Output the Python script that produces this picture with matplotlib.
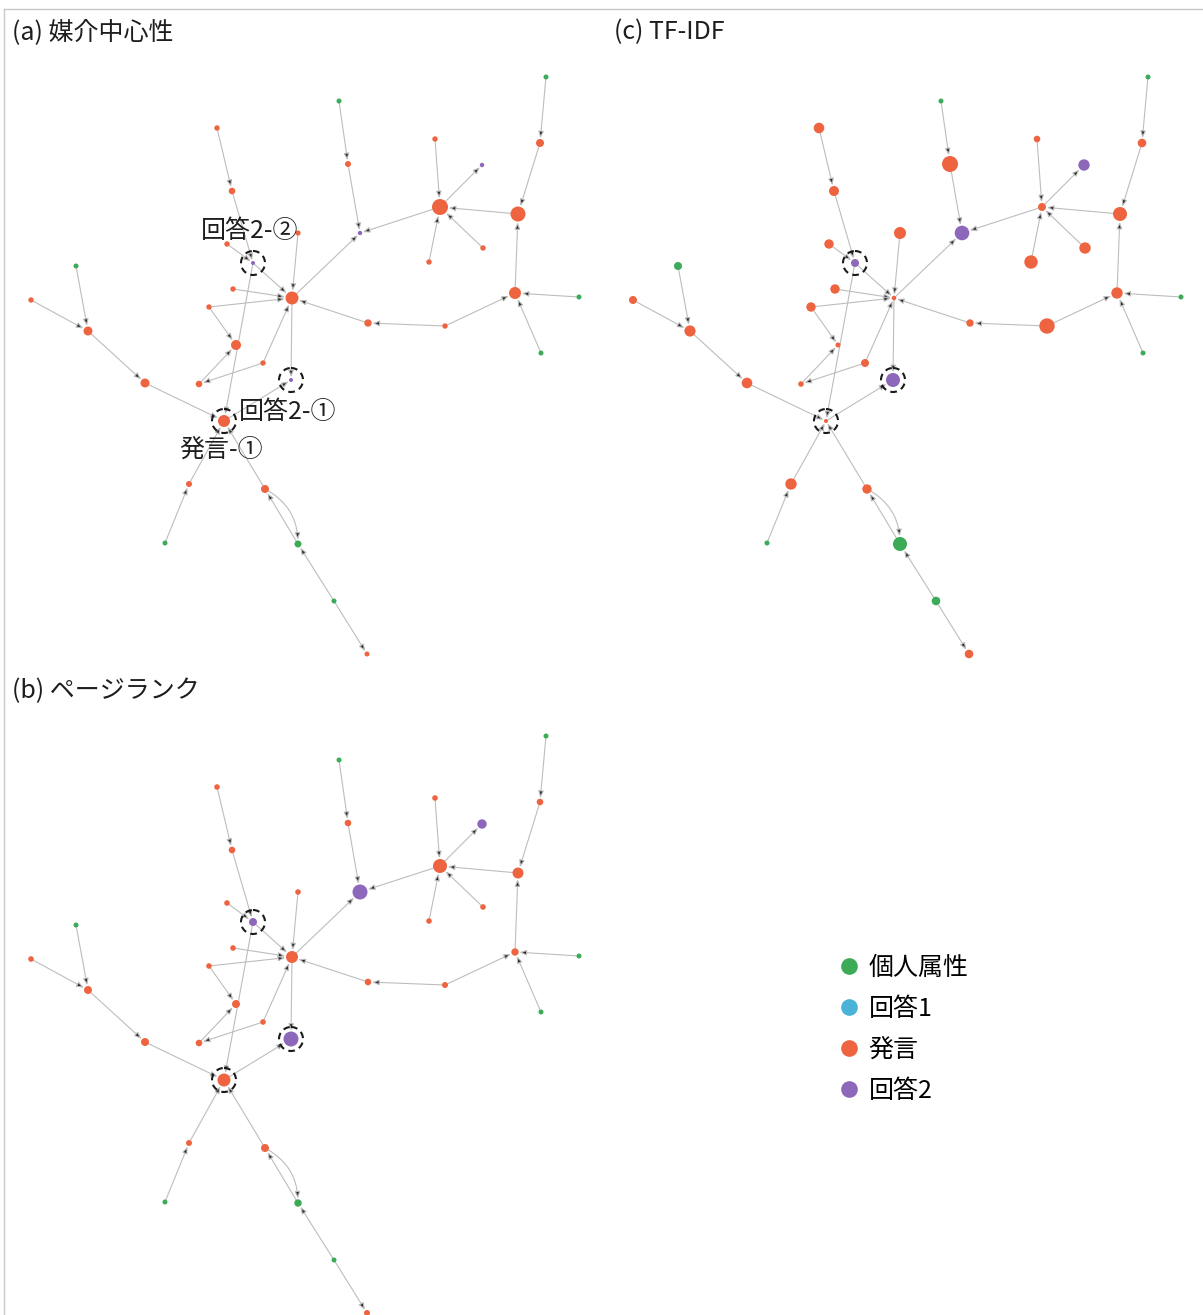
import matplotlib
matplotlib.use('Agg')
import matplotlib.pyplot as plt
from matplotlib.patches import FancyArrowPatch, Circle, ArrowStyle
from matplotlib.lines import Line2D

plt.rcParams['font.family'] = ['Noto Sans CJK JP', 'DejaVu Sans']

# ---------------- data ----------------
node_ids = ['A', 'B', 'C', 'D', 'E', 'F', 'G', 'H', 'HUB', 'I', 'J', 'K', 'L', 'M', 'N', 'O',
            'P', 'Q', 'R', 'S', 'HUB2', 'T', 'U', 'V', 'W', 'X', 'Y', 'Z', 'AA', 'AB', 'AC', 'AD',
            'SP', 'AE', 'AF', 'AG', 'AH', 'AI', 'AJ']
node_x = [217, 232, 298, 227, 253, 76, 31, 233, 292, 209, 88, 236, 263, 291, 145, 199,
          339, 348, 435, 482, 440, 546, 540, 518, 360, 483, 429, 515, 579, 541, 368, 445,
          224, 189, 265, 165, 298, 334, 367]
node_y = [128, 191, 233, 244, 263, 266, 300, 289, 298, 307, 331, 345, 363, 380, 383, 384,
          101, 164, 139, 165, 207, 77, 143, 214, 233, 248, 262, 293, 297, 353, 323, 326,
          421, 484, 489, 543, 544, 601, 654]
node_type = ['発言', '発言', '発言', '発言', '回答2', '個人属性', '発言', '発言', '発言', '発言',
             '発言', '発言', '発言', '回答2', '発言', '発言',
             '個人属性', '発言', '発言', '回答2', '発言', '個人属性', '発言', '発言', '回答2', '発言',
             '発言', '発言', '個人属性', '個人属性', '発言', '発言',
             '発言', '発言', '発言', '個人属性', '個人属性', '個人属性', '発言']
# node radius (px) per centrality measure
radius_betweenness = [2.7, 3.3, 2.6, 2.7, 2.0, 2.5, 2.7, 2.7, 6.5, 2.7, 4.5, 5.0, 2.7, 2.0, 4.5, 3.3,
                      2.5, 3.0, 2.7, 2.2, 8.0, 2.5, 4.0, 7.5, 2.2, 2.7, 2.7, 6.0, 2.5, 2.5, 3.7, 2.7,
                      6.0, 3.0, 4.0, 2.5, 3.5, 2.5, 2.5]
radius_pagerank = [2.8, 3.3, 2.8, 2.8, 4.0, 2.5, 2.8, 2.8, 6.0, 2.8, 4.0, 4.0, 2.8, 7.5, 4.0, 3.3,
                   2.5, 3.3, 2.8, 4.7, 7.0, 2.5, 3.3, 5.5, 7.5, 2.8, 2.8, 3.7, 2.5, 2.5, 3.3, 3.0,
                   6.5, 3.0, 4.0, 2.5, 3.7, 2.5, 3.0]
radius_tfidf = [5.3, 5.0, 6.0, 4.7, 4.0, 4.0, 4.0, 4.7, 2.3, 4.7, 5.6, 2.5, 4.0, 7.0, 5.3, 2.8,
                2.5, 8.0, 3.3, 5.7, 4.0, 2.5, 4.3, 7.0, 7.3, 5.7, 6.7, 5.7, 2.5, 2.5, 3.7, 7.7,
                2.0, 5.7, 4.7, 2.5, 7.0, 4.3, 4.3]

edge_src = ['A', 'B', 'D', 'E', 'H', 'I', 'I', 'C', 'L', 'L', 'O', 'HUB', 'SP', 'E', 'N', 'AE',
            'AF', 'AG', 'AF', 'AH', 'AI', 'AI', 'F', 'G', 'J', 'HUB', 'P', 'Q', 'HUB2', 'R',
            'HUB2', 'Y', 'X', 'V', 'T', 'U', 'Z', 'AA', 'AB', 'AD', 'AD', 'AC']
edge_dst = ['B', 'E', 'E', 'HUB', 'HUB', 'HUB', 'K', 'HUB', 'HUB', 'O', 'K', 'M', 'M', 'SP', 'SP', 'SP',
            'SP', 'AE', 'AH', 'AF', 'AH', 'AJ', 'J', 'J', 'N', 'W', 'Q', 'W', 'W', 'HUB2',
            'S', 'HUB2', 'HUB2', 'HUB2', 'U', 'V', 'V', 'Z', 'Z', 'Z', 'AC', 'HUB']
edge_curve = [0, 0, 0, 0, 0, 0, 0, 0, 0, 0, 0, 0, 0, 0, 0, 0,
              0, 0, -0.3, 0, 0, 0, 0, 0, 0, 0, 0, 0, 0, 0,
              0, 0, 0, 0, 0, 0, 0, 0, 0, 0, 0, 0]

highlighted = ['E', 'M', 'SP']

type_labels = ['個人属性', '回答1', '発言', '回答2']
type_colors = ['#3cab57', '#4bb3d8', '#ef6440', '#8c67ba']

panel_titles = ['(a) 媒介中心性', '(b) ページランク', '(c) TF-IDF']
annot_text = ['回答2-②', '回答2-①', '発言-①']
annot_xy = [(201, 231), (239, 412), (179, 450)]

# ---------------- drawing ----------------
W, H = 1203, 1315
fig = plt.figure(figsize=(W / 100, H / 100), dpi=100)
fig.patch.set_facecolor('white')

idx = {n: i for i, n in enumerate(node_ids)}
color_of = dict(zip(type_labels, type_colors))
PT = 0.72  # points per pixel at 100 dpi
FS = 18


def panel_axes(left, top, w, h):
    ax = fig.add_axes([left / W, 1 - (top + h) / H, w / W, h / H])
    ax.set_xlim(0, w)
    ax.set_ylim(h, 0)
    ax.axis('off')
    return ax


def draw_network(ax, radii, title):
    for s, d, rad in zip(edge_src, edge_dst, edge_curve):
        i, j = idx[s], idx[d]
        arr = FancyArrowPatch((node_x[i], node_y[i]), (node_x[j], node_y[j]),
                              arrowstyle=ArrowStyle('-|>', head_length=4.0, head_width=1.6),
                              connectionstyle=f'arc3,rad={rad}',
                              shrinkA=radii[i] * PT, shrinkB=radii[j] * PT + 0.6,
                              mutation_scale=1, lw=0.8,
                              edgecolor='#bdbdbd', facecolor='#2a2a2a', zorder=1)
        ax.add_patch(arr)
    ax.scatter(node_x, node_y, s=[(2 * r * PT) ** 2 for r in radii],
               c=[color_of[t] for t in node_type], linewidths=0, zorder=3)
    for n in highlighted:
        i = idx[n]
        ax.add_patch(Circle((node_x[i], node_y[i]), 12, fill=False, ec='#1a1a1a',
                            lw=1.5, ls=(0, (3.2, 2.2)), zorder=4))
    ax.text(12, 32, title, ha='left', va='center', fontsize=FS, color='#1e1e1e', zorder=5)


ax_a = panel_axes(0, 0, 602, 659)
ax_c = panel_axes(602, 0, 601, 659)
ax_b = panel_axes(0, 659, 602, 656)

draw_network(ax_a, radius_betweenness, panel_titles[0])
draw_network(ax_b, radius_pagerank, panel_titles[1])
draw_network(ax_c, radius_tfidf, panel_titles[2])

for t, (x, y) in zip(annot_text, annot_xy):
    ax_a.text(x, y, t, ha='left', va='center', fontsize=FS, color='#1e1e1e', zorder=6)

handles = [Line2D([], [], marker='o', ls='none', markersize=12, markeredgewidth=0, color=c)
           for c in type_colors]
fig.legend(handles, type_labels, loc='upper left', bbox_to_anchor=(835 / W, 1 - 954.5 / H),
           frameon=False, fontsize=FS, handletextpad=0.25, labelspacing=0.6,
           handlelength=1.1, borderaxespad=0, borderpad=0)

# thin frame lines at top and left
fig.add_artist(Line2D([4 / W, 1], [1 - 9 / H, 1 - 9 / H], transform=fig.transFigure,
                      color='#c8c8c8', lw=1))
fig.add_artist(Line2D([4 / W, 4 / W], [0, 1 - 9 / H], transform=fig.transFigure,
                      color='#c8c8c8', lw=1))

fig.savefig('out.png', dpi=100, facecolor='white')
